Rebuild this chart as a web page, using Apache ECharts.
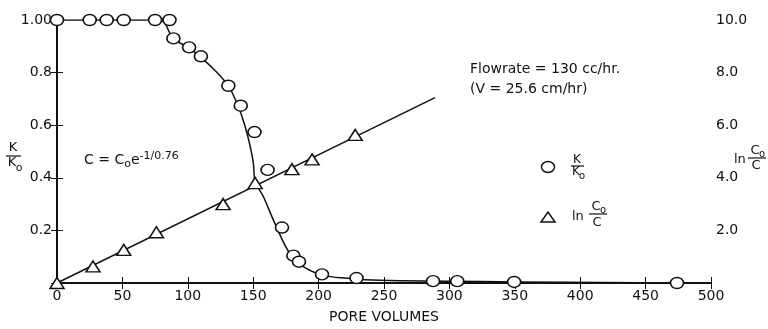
<!DOCTYPE html>
<html>
<head>
<meta charset="utf-8">
<script src="https://cdn.jsdelivr.net/npm/echarts@6/dist/echarts.min.js"></script>
<style>
  html, body { margin: 0; padding: 0; background: #fff; }
  #chart { width: 768px; height: 329px; }
</style>
</head>
<body>
<div id="chart"></div>
<script>
// K/Ko measurements (circles)
var kPore  = [0, 25, 38, 51, 75, 86, 89, 101, 110, 131, 140.5, 151, 161, 172, 180.7, 185, 202.6, 229, 287.5, 306, 349.5, 474];
var kRatio = [1, 1, 1, 1, 1, 1, 0.93, 0.896, 0.862, 0.75, 0.674, 0.574, 0.43, 0.211, 0.104, 0.081, 0.033, 0.019, 0.007, 0.007, 0.004, 0];

// hand drawn curve through the circles
var curvePore = [0, 78, 89, 101, 110, 121, 131, 135, 141, 146, 150, 151.5, 155, 158, 167, 178, 188, 203, 222, 247, 300, 350, 475];
var curveK    = [1, 1, 0.93, 0.893, 0.858, 0.807, 0.75, 0.712, 0.64, 0.555, 0.46, 0.381, 0.352, 0.326, 0.222, 0.112, 0.063, 0.03, 0.018, 0.01, 0.007, 0.004, 0];

// ln(Co/C) measurements (triangles) and the straight fit
var lnPore = [0, 27.5, 51, 76, 127, 151.5, 179.6, 195, 228];
var lnVal  = [0, 0.63, 1.26, 1.93, 3.0, 3.8, 4.33, 4.7, 5.63];
var fitPore = [0, 289];
var fitVal  = [0, 7.05];

var xTicks = [0, 500, 50];   // min, max, interval
var kTicks = [0, 1, 0.2];
var lnTicks = [0, 10, 2];

function pairs(xs, ys) {
  return xs.map(function (x, i) { return [x, ys[i]]; });
}

var FONT = 'DejaVu Sans';
var black = '#111';

var chart = echarts.init(document.getElementById('chart'));

function txt(x, y, s, size, align) {
  return {
    type: 'text', x: x, y: y, silent: true,
    style: { text: s, font: (size || 14) + 'px ' + FONT, fill: black, textAlign: align || 'center', textVerticalAlign: 'middle' }
  };
}
function bar(x1, x2, y) {
  return { type: 'line', silent: true, shape: { x1: x1, y1: y, x2: x2, y2: y }, style: { stroke: black, lineWidth: 1.2 } };
}

var option = {
  backgroundColor: '#fff',
  animation: false,
  grid: { left: 57, right: 57, top: 20, bottom: 39 },
  xAxis: [
    {
      type: 'value', min: xTicks[0], max: xTicks[1], interval: xTicks[2],
      name: 'PORE VOLUMES', nameLocation: 'middle', nameGap: 27,
      nameTextStyle: { color: black, fontSize: 14, fontFamily: FONT },
      axisLine: { lineStyle: { color: black, width: 2 } },
      axisTick: { inside: true, length: 6, lineStyle: { color: black } },
      axisLabel: { color: black, fontSize: 14, fontFamily: FONT, margin: 6 },
      splitLine: { show: false }
    },
    {
      type: 'value', position: 'top', min: xTicks[0], max: xTicks[1], interval: xTicks[2],
      axisLine: { show: true, lineStyle: { color: black, width: 1 } },
      axisTick: { inside: true, length: 6, lineStyle: { color: black } },
      axisLabel: { show: false },
      splitLine: { show: false }
    }
  ],
  yAxis: [
    {
      type: 'value', min: kTicks[0], max: kTicks[1], interval: kTicks[2],
      axisLine: { show: true, lineStyle: { color: black, width: 2 } },
      axisTick: { show: true, inside: true, length: 6, lineStyle: { color: black } },
      axisLabel: {
        color: black, fontSize: 14, fontFamily: FONT, margin: 5,
        formatter: function (v) { return v === 0 ? '' : (v === 1 ? '1.00' : v.toFixed(1)); }
      },
      splitLine: { show: false }
    },
    {
      type: 'value', position: 'right', min: lnTicks[0], max: lnTicks[1], interval: lnTicks[2],
      axisLine: { show: true, lineStyle: { color: black, width: 1.5 } },
      axisTick: { show: true, inside: true, length: 6, lineStyle: { color: black } },
      axisLabel: {
        color: black, fontSize: 14, fontFamily: FONT, margin: 5,
        formatter: function (v) { return v === 0 ? '' : v.toFixed(1); }
      },
      splitLine: { show: false }
    }
  ],
  series: [
    {
      type: 'line', yAxisIndex: 0, data: pairs(curvePore, curveK),
      smooth: 0.4, showSymbol: false,
      lineStyle: { color: black, width: 1.5 }, z: 2
    },
    {
      type: 'line', yAxisIndex: 1, data: pairs(fitPore, fitVal),
      showSymbol: false, lineStyle: { color: black, width: 1.5 }, z: 2
    },
    {
      type: 'scatter', yAxisIndex: 0, data: pairs(kPore, kRatio),
      symbol: 'circle', symbolSize: [13, 11],
      itemStyle: { color: '#fff', borderColor: black, borderWidth: 1.5, opacity: 1 }, z: 3
    },
    {
      type: 'scatter', yAxisIndex: 1, data: pairs(lnPore, lnVal),
      symbol: 'triangle', symbolSize: [14, 11],
      itemStyle: { color: '#fff', borderColor: black, borderWidth: 1.5, opacity: 1 }, z: 3
    }
  ],
  graphic: [
    // left axis title K/Ko
    txt(13, 148, 'K', 13), bar(6, 21, 156), txt(12, 163, 'K', 13), txt(19, 168, 'o', 11),
    // right axis title ln Co/C
    txt(734, 160, 'ln', 13, 'left'), txt(755, 151, 'C', 13), txt(762, 154, 'o', 10), bar(748, 766, 158), txt(756, 166, 'C', 13),
    // equation
    {
      type: 'text', x: 84, y: 160, silent: true,
      style: {
        text: '{b|C = C}{s|o}{b|e}{p|-1/0.76}',
        textVerticalAlign: 'middle',
        rich: {
          b: { font: '14px ' + FONT, fill: black },
          s: { font: '11px ' + FONT, fill: black, padding: [8, 0, 0, 0] },
          p: { font: '11px ' + FONT, fill: black, padding: [0, 0, 8, 0] }
        }
      }
    },
    // flowrate note
    txt(470, 69, 'Flowrate = 130 cc/hr.', 14, 'left'),
    txt(470, 89, '(V = 25.6 cm/hr)', 14, 'left'),
    // legend
    { type: 'ellipse', silent: true, shape: { cx: 548, cy: 167, rx: 6.5, ry: 5.5 }, style: { fill: '#fff', stroke: black, lineWidth: 1.5 } },
    txt(577, 160, 'K', 12), bar(571, 584, 166), txt(576, 172, 'K', 12), txt(582, 176, 'o', 10),
    { type: 'polygon', silent: true, shape: { points: [[541, 222], [555, 222], [548, 212]] }, style: { fill: '#fff', stroke: black, lineWidth: 1.5 } },
    txt(572, 217, 'ln', 13, 'left'), txt(596, 207, 'C', 13), txt(603, 210, 'o', 10), bar(589, 607, 214), txt(597, 223, 'C', 13)
  ]
};

chart.setOption(option);
</script>
</body>
</html>
